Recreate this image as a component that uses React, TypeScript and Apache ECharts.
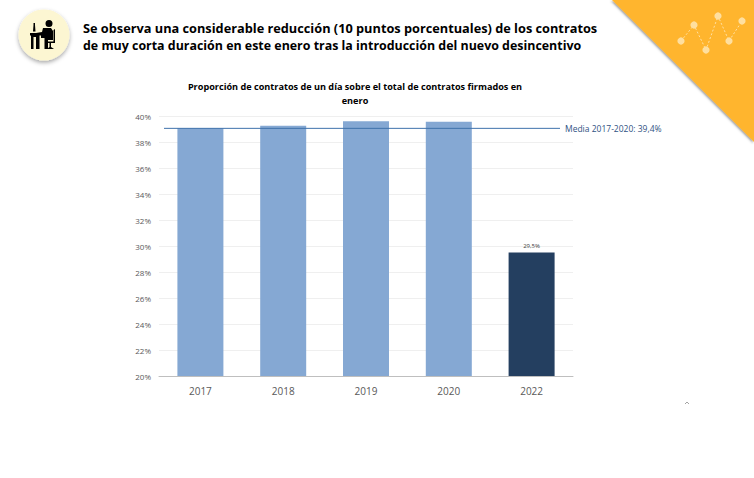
import { useEffect, useRef } from 'react'
import * as echarts from 'echarts'

const YEARS = ['2017', '2018', '2019', '2020', '2022']
const SHARE = [39.05, 39.25, 39.6, 39.55, 29.5]
const MEAN_LINE = [39.05, 39.05]
const MEAN_X = [0, 1]
const HEADLINE = [
  'Se observa una considerable reducción (10 puntos porcentuales) de los contratos',
  'de muy corta duración en este enero tras la introducción del nuevo desincentivo',
]
const HEADLINE_SIZE = [12.75, 12.42]
const CHART_TITLE = 'Proporción de contratos de un día sobre el total de contratos firmados en\nenero'
const MEAN_LABEL = 'Media 2017-2020: 39,4%'
const DECOR_DOTS = [[681, 41], [694, 25], [706, 50], [718, 16], [729, 41], [742, 21]]

const FONT = '"Open Sans", sans-serif'

// worker at a desk, traced by eye from the badge
const WORKER_PATH =
  'M45.5 23.5a3.5 3.5 0 1 0 7 0a3.5 3.5 0 1 0-7 0z ' + // head
  'M43 28L51 28L53 31L53 40L48 40L48 49L44.5 49L44.5 38L41 38L41 35.5L36 35.5L36 33L42 32z ' + // body
  'M53.5 30L55 29L55 43L47.5 43L47.5 41.5L53.5 41.5z ' + // chair back
  'M49.5 43L51 43L51 47L54 49L47 49L49.5 47z ' + // chair foot
  'M33.5 23L35 23L35 25L35.5 31.5L33 31.5L33.5 25z ' + // screen
  'M30 33L38 33L38 35.5L39.5 35.5L39.5 49L36 49L36 37L33.5 37L33.5 49L31 49L31 35.5L30 35.5z' // desk

echarts.graphic.registerShape('worker', echarts.graphic.extendPath(WORKER_PATH, {}) as any)

const App: React.FC = () => {
  const chartRef = useRef<HTMLDivElement | null>(null)

  useEffect(() => {
    document.body.style.margin = '0'
    if (!chartRef.current) return
    const chart = echarts.init(chartRef.current, null, { renderer: 'svg' })

    const option: any = {
      animation: false,
      backgroundColor: '#ffffff',
      title: {
        text: CHART_TITLE,
        left: 350,
        top: 75,
        textAlign: 'center',
        textStyle: { fontFamily: FONT, fontSize: 9.15, fontWeight: 700, color: '#000000', lineHeight: 13.5, align: 'center' },
      },
      grid: [
        { left: 159, right: 181, top: 116, bottom: 102 },
        { left: 164, right: 194, top: 116, bottom: 102 },
      ],
      xAxis: [
        {
          type: 'category',
          data: YEARS,
          gridIndex: 0,
          axisTick: { show: false },
          axisLine: { lineStyle: { color: '#bfbfbf' } },
          axisLabel: { color: '#595959', fontFamily: FONT, fontSize: 10, margin: 10 },
        },
        { type: 'value', gridIndex: 1, min: 0, max: 1, show: false },
      ],
      yAxis: [
        {
          type: 'value',
          gridIndex: 0,
          min: 20,
          max: 40,
          interval: 2,
          axisLine: { show: false },
          axisTick: { show: false },
          axisLabel: { color: '#595959', fontFamily: FONT, fontSize: 8, margin: 8, padding: [0, 0, 2, 0], formatter: '{value}%' },
          splitLine: { lineStyle: { color: '#efefef' } },
        },
        { type: 'value', gridIndex: 1, min: 20, max: 40, interval: 2, show: false },
      ],
      series: [
        {
          type: 'bar',
          xAxisIndex: 0,
          yAxisIndex: 0,
          barWidth: 46,
          data: SHARE.map((v, i) => ({
            value: v,
            itemStyle: { color: i === SHARE.length - 1 ? '#243f60' : '#85a8d3' },
            label: {
              show: i === SHARE.length - 1,
              position: 'top',
              distance: 4,
              formatter: () => `${String(v).replace('.', ',')}%`,
              fontFamily: FONT,
              fontSize: 6,
              color: '#404040',
            },
          })),
        },
        {
          type: 'line',
          xAxisIndex: 1,
          yAxisIndex: 1,
          data: MEAN_X.map((x, i) => [x, MEAN_LINE[i]]),
          symbol: 'none',
          lineStyle: { color: '#3f72ac', width: 1 },
          clip: false,
          endLabel: {
            show: true,
            formatter: () => MEAN_LABEL,
            distance: 5,
            fontFamily: FONT,
            fontSize: 8.5,
            color: '#2f5283',
          },
        },
      ],
      graphic: [
        // orange corner
        {
          type: 'polygon',
          silent: true,
          shape: { points: [[612, 0], [754, 0], [754, 142]] },
          style: { fill: '#ffb52e', shadowBlur: 2, shadowColor: 'rgba(60,60,60,0.5)', shadowOffsetX: -1, shadowOffsetY: 1 },
        },
        {
          type: 'polyline',
          silent: true,
          shape: { points: DECOR_DOTS },
          style: { fill: 'none', stroke: '#ffe0a3', lineWidth: 1, lineDash: [2, 2] },
        },
        ...DECOR_DOTS.map(([cx, cy]) => ({
          type: 'circle',
          silent: true,
          shape: { cx, cy, r: 3.6 },
          style: { fill: '#ffdf9f' },
        })),
        // badge
        {
          type: 'circle',
          silent: true,
          shape: { cx: 44, cy: 35, r: 25.5 },
          style: { fill: '#fcf6d2', shadowBlur: 4, shadowColor: 'rgba(0,0,0,0.35)', shadowOffsetY: 2 },
        },
        { type: 'worker', silent: true, x: 0, y: 0, style: { fill: '#000000' } },
        // headline
        ...HEADLINE.map((line, i) => ({
          type: 'text',
          silent: true,
          x: 83,
          y: 21.5 + i * 18,
          style: { text: line, fontFamily: FONT, fontSize: HEADLINE_SIZE[i], fontWeight: 700, fill: '#000000' },
        })),
        // cut-off page number at the foot of the slide
        {
          type: 'polyline',
          silent: true,
          shape: { points: [[685, 404], [687, 402], [689, 404]] },
          style: { fill: 'none', stroke: '#8c8c8c', lineWidth: 0.8 },
        },
      ],
    }

    chart.setOption(option)
    return () => chart.dispose()
  }, [])

  return <div ref={chartRef} style={{ width: 754, height: 478 }} />
}

export default App
